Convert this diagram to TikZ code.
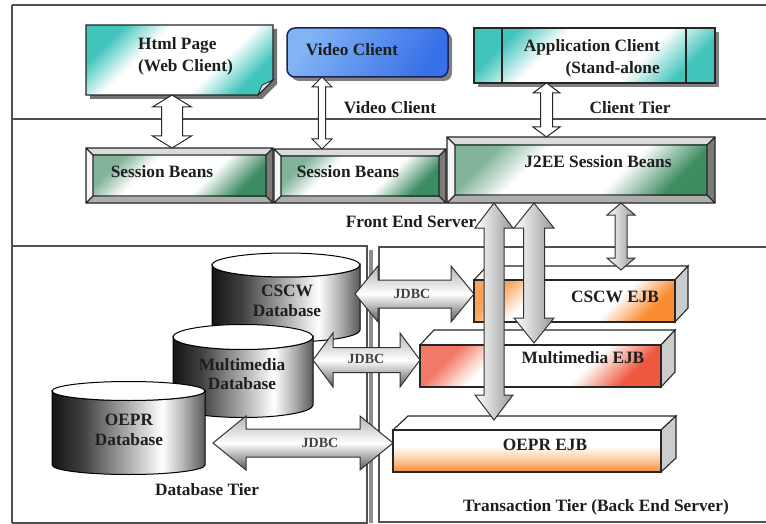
\documentclass[tikz,border=0pt]{standalone}
\usepackage{fontspec}
\setmainfont{Liberation Serif}
\usetikzlibrary{calc}
\definecolor{framec}{RGB}{80,80,80}
\definecolor{tealc}{RGB}{64,196,188}
\definecolor{vblA}{RGB}{130,180,245}
\definecolor{vblB}{RGB}{55,112,232}
\definecolor{vnavy}{RGB}{25,35,90}
\definecolor{grn}{RGB}{62,140,98}
\definecolor{orng}{RGB}{250,140,50}
\definecolor{salm}{RGB}{238,88,62}
\definecolor{txtc}{RGB}{30,30,30}
\pgfdeclarehorizontalshading{cylsh}{100bp}{color(0bp)=(black!92); color(25bp)=(black!92); color(35bp)=(black!75); color(61bp)=(white); color(68bp)=(black!30); color(75bp)=(black!65); color(100bp)=(black!65)}
\pgfdeclareverticalshading{tealsh}{100bp}{color(0bp)=(tealc); color(25bp)=(tealc); color(38bp)=(white); color(62bp)=(white); color(75bp)=(tealc); color(100bp)=(tealc)}
\pgfdeclareverticalshading{grnsh}{100bp}{color(0bp)=(grn); color(25bp)=(grn); color(40bp)=(white); color(63bp)=(white); color(75bp)=(grn!65!white); color(100bp)=(grn!65!white)}
\pgfdeclareverticalshading{orsh}{100bp}{color(0bp)=(orng); color(25bp)=(orng); color(38bp)=(white); color(64bp)=(white); color(75bp)=(orng!80!white); color(100bp)=(orng!80!white)}
\pgfdeclareverticalshading{salsh}{100bp}{color(0bp)=(salm); color(25bp)=(salm); color(38bp)=(white); color(64bp)=(white); color(75bp)=(salm!80!white); color(100bp)=(salm!80!white)}
\pgfdeclareverticalshading{oeprsh}{100bp}{color(0bp)=(orng); color(25bp)=(orng); color(40bp)=(orng!45!white); color(56bp)=(white); color(75bp)=(white); color(100bp)=(white)}
% vertical double block arrow: style, top point, bottom point, shaft half, head half, head length
\newcommand\vdarrow[6]{%
 \path[#1] let \p1=(#2), \p2=(#3) in (\x1,\y1) -- (\x1+#5pt,\y1-#6pt) -- (\x1+#4pt,\y1-#6pt) -- (\x1+#4pt,\y2+#6pt) -- (\x1+#5pt,\y2+#6pt) -- (\x1,\y2) -- (\x1-#5pt,\y2+#6pt) -- (\x1-#4pt,\y2+#6pt) -- (\x1-#4pt,\y1-#6pt) -- (\x1-#5pt,\y1-#6pt) -- cycle;}
% horizontal double block arrow: style, left point, right point, shaft half, head half, head length
\newcommand\hdarrow[6]{%
 \path[#1] let \p1=(#2), \p2=(#3) in (\x1,\y1) -- (\x1+#6pt,\y1+#5pt) -- (\x1+#6pt,\y1+#4pt) -- (\x2-#6pt,\y1+#4pt) -- (\x2-#6pt,\y1+#5pt) -- (\x2,\y1) -- (\x2-#6pt,\y1-#5pt) -- (\x2-#6pt,\y1-#4pt) -- (\x1+#6pt,\y1-#4pt) -- (\x1+#6pt,\y1-#5pt) -- cycle;}
% bevelled box around a node
\newcommand\bevelbox[3]{%
 \coordinate (bA) at (#1.north west); \coordinate (bB) at (#1.north east);
 \coordinate (bC) at (#1.south east); \coordinate (bD) at (#1.south west);
 \coordinate (ba) at ($(bA)+(#2,#2)$); \coordinate (bb) at ($(bB)+(-#2,#2)$);
 \coordinate (bc) at ($(bC)+(-#2,-#2)$); \coordinate (bd) at ($(bD)+(#2,-#2)$);
 \fill[black!14] (bA)--(bB)--(bb)--(ba)--cycle;
 \fill[black!4] (bA)--(ba)--(bd)--(bD)--cycle;
 \fill[black!32] (bD)--(bd)--(bc)--(bC)--cycle;
 \fill[black!52] (bB)--(bC)--(bc)--(bb)--cycle;
 \shade[#3] (ba) rectangle (bc);
 \draw[edge] (bA) rectangle (bC) (ba) rectangle (bc) (bA)--(ba) (bB)--(bb) (bC)--(bc) (bD)--(bd);}
% 3D box on a node (front face)
\newcommand\ejbbox[4]{%
 \shade[#4] (#1.north west) rectangle (#1.south east);
 \filldraw[fill=white, edge] (#1.north west) -- ++(#2,-#3) -- ($(#1.north east)+(#2,-#3)$) -- (#1.north east) -- cycle;
 \filldraw[fill=black!20, edge] (#1.north east) -- ++(#2,-#3) -- ($(#1.south east)+(#2,-#3)$) -- (#1.south east) -- cycle;
 \draw[edge] (#1.north west) rectangle (#1.south east);}
% cylinder: cx, ytop, ybot, rx, ry
\newcommand\cylinderdb[5]{%
 \shadedraw[shading=cylsh, draw=black, line width=1pt] ({#1-#4},#2) -- ({#1-#4},#3) arc[start angle=180, end angle=0, x radius=#4, y radius=#5] -- ({#1+#4},#2) arc[start angle=0, end angle=180, x radius=#4, y radius=#5] -- cycle;
 \draw[fill=white, line width=1pt] (#1,#2) ellipse [x radius=#4, y radius=#5];}
\begin{document}
\begin{tikzpicture}[x=1pt,y=-1pt,
 frameln/.style={draw=framec, line width=1.3pt},
 txt/.style={font=\fontsize{17.3}{22}\selectfont\bfseries, text=txtc, inner sep=0pt, align=center},
 dbtxt/.style={txt, font=\fontsize{17.3}{19.5}\selectfont\bfseries},
 jdbc/.style={font=\fontsize{14}{17}\selectfont\bfseries, text=txtc!85!white, inner sep=0pt},
 edge/.style={draw=black!85, line width=1.1pt},
 boxn/.style={inner sep=0pt, outer sep=0pt},
 wharrow/.style={fill=white, draw=black!85, line width=1pt},
 gvarrow/.style={draw=black!80, line width=1pt, left color=white, right color=black!40},
 gharrow/.style={draw=black!80, line width=1pt, top color=black!30, bottom color=black!65, middle color=white}]
\useasboundingbox (0,0) rectangle (766,524);
\fill[white] (0,0) rectangle (766,524);
% frames
\draw[frameln] (12,5) -- (766,5) (12,5) -- (12,523) (12,119) -- (766,119);
\draw[frameln] (12,246) -- (367,246) -- (367,523) -- (12,523);
\fill[black!45] (369,250) rectangle (373,523);
\draw[frameln] (766,247) -- (379,247) -- (379,522) -- (766,522);
% Html page
\fill[black!55] (90,29) -- (277,29) -- (277,84) -- (262,99) -- (90,99) -- cycle;
\path[edge, shading=tealsh, shading angle=45] (86,25) -- (273,25) -- (273,80) -- (258,95) -- (86,95) -- cycle;
\filldraw[fill=white!75!tealc, edge, line width=0.8pt] (258,95) -- (262,85) -- (273,80) -- cycle;
\node[boxn, minimum width=187pt, minimum height=70pt] (html) at (179.5,60) {};
\node[txt, align=left, anchor=west] (htmlT) at (138,56) {Html Page\\(Web Client)};
% Video client
\fill[black!50, rounded corners=8pt] (291,32) rectangle (452,81);
\node[boxn, draw=vnavy, line width=1.5pt, rounded corners=8pt, left color=vblA, right color=vblB, shading angle=60, minimum width=161pt, minimum height=49pt] (video) at (367.5,52.5) {};
\node[txt] (videoT) at (352,50) {Video Client};
% Application client
\fill[black!50] (478,32) rectangle (719,87);
\node[boxn, draw=black!85, line width=1.1pt, shade, shading=tealsh, shading angle=45, minimum width=241pt, minimum height=55pt] (app) at (594.5,55.5) {};
\draw[edge] ([xshift=28pt]app.north west) -- ([xshift=28pt]app.south west) ([xshift=-29pt]app.north east) -- ([xshift=-29pt]app.south east);
\node[txt, align=right, anchor=east] (appT) at (660,58) {Application Client\\(Stand-alone};
\node[txt] (vclbl) at (390,108) {Video Client};
\node[txt] (ctier) at (630,108) {Client Tier};
% session beans
\node[boxn, minimum width=187pt, minimum height=55pt] (sb1) at (179.5,175.5) {};
\bevelbox{sb1}{7}{shading=grnsh, shading angle=45}
\node[boxn, minimum width=172pt, minimum height=54pt] (sb2) at (360,176) {};
\bevelbox{sb2}{7}{shading=grnsh, shading angle=45}
\node[boxn, minimum width=268pt, minimum height=66pt] (j2ee) at (581,170) {};
\bevelbox{j2ee}{8}{shading=grnsh, shading angle=45}
\node[txt] (sb1T) at (162,172) {Session Beans};
\node[txt] (sb2T) at (348,172) {Session Beans};
\node[txt] (j2eeT) at (598,162) {J2EE Session Beans};
\node[txt] (fes) at (411,222) {Front End Server};
% EJB boxes
\node[boxn, minimum width=201pt, minimum height=42pt] (cscwejb) at (574.5,301) {};
\ejbbox{cscwejb}{13}{14}{shading=orsh, shading angle=45}
\node[boxn, minimum width=241pt, minimum height=42pt] (mmejb) at (540.5,366) {};
\ejbbox{mmejb}{14}{15}{shading=salsh, shading angle=45}
\node[boxn, minimum width=268pt, minimum height=42pt] (oeprejb) at (527,451) {};
\ejbbox{oeprejb}{15}{14}{shading=oeprsh}
\node[txt] (cscwejbT) at (615,297) {CSCW EJB};
\node[txt] (mmejbT) at (583,358) {Multimedia EJB};
\node[txt] (oeprejbT) at (545,445) {OEPR EJB};
% databases
\cylinderdb{286}{265}{330}{74}{12}
\node[boxn, minimum width=148pt, minimum height=65pt] (cscwdb) at (286,297.5) {};
\node[dbtxt] (cscwdbT) at (287,301) {CSCW\\Database};
\cylinderdb{243}{337}{405}{70}{12.5}
\node[boxn, minimum width=140pt, minimum height=68pt] (mmdb) at (243,371) {};
\node[dbtxt] (mmdbT) at (242,374) {Multimedia\\Database};
\cylinderdb{128.5}{391}{465}{76.5}{9.5}
\node[boxn, minimum width=153pt, minimum height=74pt] (oepr) at (128.5,428) {};
\node[dbtxt] (oeprT) at (129,430) {OEPR\\Database};
\node[txt] (dbtier) at (207,490) {Database Tier};
\node[txt] (trtier) at (596,507) {Transaction Tier (Back End Server)};
% client tier arrows
\vdarrow{wharrow}{[xshift=-7.5pt]html.south}{sb1.north}{10.5}{19.5}{12}
\vdarrow{wharrow}{[xshift=-45.5pt]video.south}{sb2.north}{3.7}{10}{10}
\vdarrow{wharrow}{[xshift=-48pt]app.south}{j2ee.north}{6}{13.5}{10}
% front end to back end arrows
\vdarrow{gvarrow}{[xshift=-87pt]j2ee.south}{[yshift=10pt]oeprejb.north}{10}{19}{25}
\vdarrow{gvarrow}{[xshift=-47pt]j2ee.south}{[yshift=2pt]mmejb.north}{10.5}{20}{25}
\vdarrow{gvarrow}{[xshift=40pt]j2ee.south}{[yshift=10pt]cscwejb.north}{6}{14}{12}
% JDBC arrows
\hdarrow{gharrow}{[shift={(-5,-3.5)}]cscwdb.east}{cscwejb.west}{14}{28}{23}
\hdarrow{gharrow}{[yshift=11pt]mmdb.east}{mmejb.west}{12.5}{27}{20}
\hdarrow{gharrow}{[shift={(8,15)}]oepr.east}{oeprejb.west}{14}{27}{33}
\node[jdbc] (j1) at (412,294) {JDBC};
\node[jdbc] (j2) at (366,359) {JDBC};
\node[jdbc] (j3) at (320,443) {JDBC};
\end{tikzpicture}
\end{document}
